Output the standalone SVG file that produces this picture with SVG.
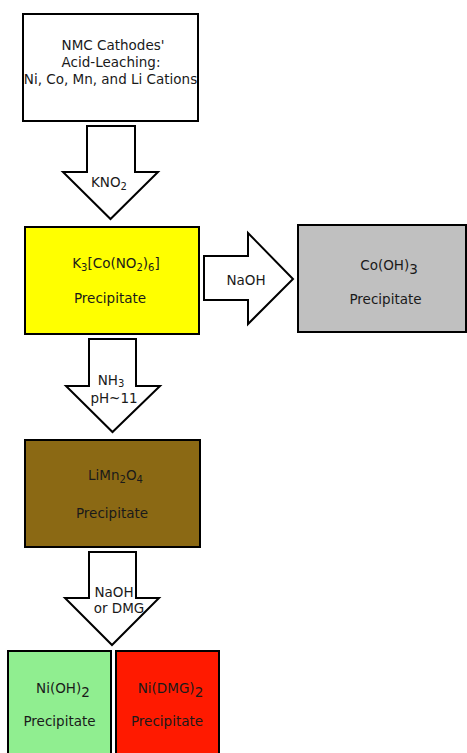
<svg xmlns="http://www.w3.org/2000/svg" width="467" height="753" viewBox="0 0 467 753">
<style>
.box{stroke:#000;stroke-width:2}
.arr{fill:#fff;stroke:#000;stroke-width:2;stroke-linejoin:miter}
text{font-family:"DejaVu Sans","Liberation Sans",sans-serif;font-size:13.5px;fill:#1a1a1a;text-anchor:middle}
.s{font-size:10px}
</style>
<rect width="467" height="753" fill="#fff"/>
<g id="connectors">
<polygon class="arr" points="87,126 135,126 135,172 158,172 110.5,219 63,172 87,172"/>
<polygon class="arr" points="204,256 248,256 248,233 293,279 248,324 248,300 204,300"/>
<polygon class="arr" points="89,339 136,339 136,386 160,386 112.5,432 66,386 89,386"/>
<polygon class="arr" points="89,552 136,552 136,598 159,598 112,645 65,598 89,598"/>
<text x="109" y="187">KNO<tspan class="s" dy="3">2</tspan></text>
<text x="246" y="285">NaOH</text>
<text x="111" y="385">NH<tspan class="s" dy="2">3</tspan></text>
<text x="114" y="403">pH~11</text>
<text x="114" y="597">NaOH</text>
<text x="119" y="613">or DMG</text>
</g>
<g id="leach">
<rect class="box" x="23" y="14" width="175" height="107" fill="#fff"/>
<text x="113" y="50">NMC Cathodes'</text>
<text x="111" y="67">Acid-Leaching:</text>
<text x="110.5" y="84">Ni, Co, Mn, and Li Cations</text>
</g>
<g id="k3co">
<rect class="box" x="25" y="227" width="174" height="107" fill="#ffff00"/>
<text x="116" y="268">K<tspan class="s" dy="3">3</tspan><tspan dy="-3">[Co(NO</tspan><tspan class="s" dy="3">2</tspan><tspan dy="-3">)</tspan><tspan class="s" dy="3">6</tspan><tspan dy="-3">]</tspan></text>
<text x="110" y="303">Precipitate</text>
</g>
<g id="cooh">
<rect class="box" x="298" y="225" width="168" height="107" fill="#c0c0c0"/>
<text x="389" y="270">Co(OH)<tspan dy="4">3</tspan></text>
<text x="385.5" y="304">Precipitate</text>
</g>
<g id="limn">
<rect class="box" x="25" y="440" width="175" height="107" fill="#8b6914"/>
<text x="115.5" y="480">LiMn<tspan class="s" dy="3">2</tspan><tspan dy="-3">O</tspan><tspan class="s" dy="3">4</tspan></text>
<text x="112" y="518">Precipitate</text>
</g>
<g id="nioh">
<rect class="box" x="8" y="651" width="103" height="110" fill="#90ee90"/>
<text x="63" y="693">Ni(OH)<tspan dy="4">2</tspan></text>
<text x="59.5" y="726">Precipitate</text>
</g>
<g id="nidmg">
<rect class="box" x="116" y="651" width="103" height="110" fill="#ff1a00"/>
<text x="170.5" y="693">Ni(DMG)<tspan dy="4">2</tspan></text>
<text x="167" y="726">Precipitate</text>
</g>
</svg>
